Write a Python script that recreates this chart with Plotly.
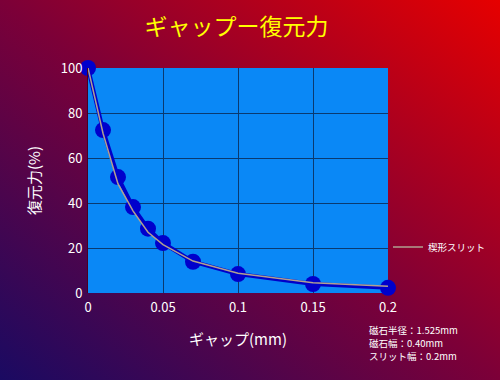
import base64
import plotly.graph_objects as go

# data
gap_mm = [0, 0.01, 0.02, 0.03, 0.04, 0.05, 0.07, 0.1, 0.15, 0.2]
force_measured = [100, 72.4, 51.5, 38.2, 28.6, 22.2, 13.9, 8.4, 4.0, 2.3]
force_slit = [100, 71, 48.5, 36.5, 27, 21.5, 14.2, 8.8, 4.6, 3.0]
series_name = "楔形スリット"
title_text = "ギャップー復元力"
x_title = "ギャップ(mm)"
y_title = "復元力(%)"
x_tickvals = [0, 0.05, 0.1, 0.15, 0.2]
x_ticktext = ["0", "0.05", "0.1", "0.15", "0.2"]
y_tickvals = [0, 20, 40, 60, 80, 100]
notes = ["磁石半径：1.525mm", "磁石幅：0.40mm", "スリット幅：0.2mm"]

FONT = "Noto Sans CJK JP, Noto Sans, sans-serif"

svg = ('<svg xmlns="http://www.w3.org/2000/svg" width="500" height="380" '
       'preserveAspectRatio="none" viewBox="0 0 500 380">'
       '<defs><linearGradient id="g" x1="0" y1="1" x2="1" y2="0">'
       '<stop offset="0" stop-color="#1a0a62"/>'
       '<stop offset="0.5" stop-color="#7c0038"/>'
       '<stop offset="1" stop-color="#e60000"/>'
       '</linearGradient></defs>'
       '<rect width="500" height="380" fill="url(#g)"/></svg>')
bg_uri = "data:image/svg+xml;base64," + base64.b64encode(svg.encode()).decode()

fig = go.Figure()
fig.add_trace(go.Scatter(
    x=gap_mm, y=force_measured, mode="lines+markers",
    line=dict(color="#0000c8", width=4),
    marker=dict(color="#0000cc", size=16),
    showlegend=False, cliponaxis=False, hoverinfo="skip"))
fig.add_trace(go.Scatter(
    x=gap_mm, y=force_slit, mode="lines", name=series_name,
    line=dict(color="#b0a090", width=1.5),
    cliponaxis=False))

fig.add_shape(type="rect", xref="x domain", yref="y domain", x0=0, x1=1, y0=0, y1=1,
              fillcolor="#0a88f6", line=dict(width=0), layer="below")

fig.update_layout(
    width=500, height=380,
    margin=dict(l=0, r=0, t=0, b=0, autoexpand=False),
    paper_bgcolor="rgba(0,0,0,0)",
    plot_bgcolor="#0a88f6",
    font=dict(family=FONT, color="white", size=13),
    title=dict(text=title_text, x=0.473, xanchor="center", y=0.928, yanchor="middle",
               font=dict(color="#ffff00", size=23, family=FONT)),
    images=[dict(source=bg_uri, xref="paper", yref="paper", x=0, y=1,
                 sizex=1, sizey=1, sizing="stretch", xanchor="left",
                 yanchor="top", layer="below")],
    xaxis=dict(domain=[88 / 500, 388 / 500], range=[0, 0.2],
               tickvals=x_tickvals, ticktext=x_ticktext,
               showgrid=True, gridcolor="#0a3a70", gridwidth=1,
               zeroline=False, showline=False, automargin=False,
               ticks="outside", ticklen=2, tickcolor="rgba(0,0,0,0)",
               tickfont=dict(size=13, color="white"),
               title=dict(text=x_title, font=dict(size=15, color="white"), standoff=19)),
    yaxis=dict(domain=[1 - 293 / 380, 1 - 68 / 380], range=[0, 100],
               tickvals=y_tickvals, automargin=False,
               showgrid=True, gridcolor="#0a3a70", gridwidth=1,
               zeroline=False, showline=True, linecolor="#4a0020", linewidth=1,
               ticks="outside", ticklen=2, tickcolor="rgba(0,0,0,0)",
               tickfont=dict(size=13, color="white"),
               title=dict(text=y_title, font=dict(size=15, color="white"), standoff=16)),
    legend=dict(x=0.776, y=1 - 247 / 380, xanchor="left", yanchor="middle",
                bgcolor="rgba(0,0,0,0)", font=dict(size=9.5, color="white")),
)

for i, t in enumerate(notes):
    fig.add_annotation(text=t, xref="paper", yref="paper", x=368 / 500,
                       y=1 - (330 + 12.8 * i) / 380, xanchor="left", yanchor="middle",
                       showarrow=False, borderpad=0,
                       font=dict(size=9.5, color="white", family=FONT))

fig.write_html("out.html")
